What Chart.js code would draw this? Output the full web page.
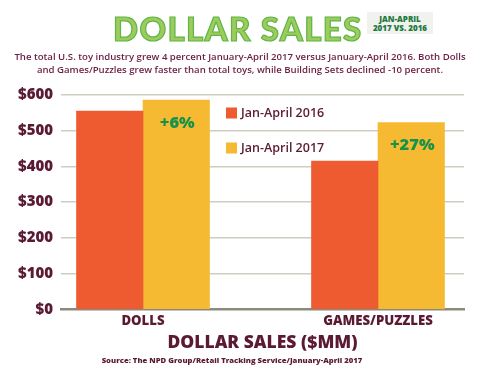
<!DOCTYPE html>
<html><head><meta charset="utf-8">
<script src="https://cdn.jsdelivr.net/npm/chart.js@4/dist/chart.umd.min.js"></script>
<style>
html,body{margin:0;padding:0;background:#fff;width:480px;height:373px;overflow:hidden;}
#wrap{position:relative;width:480px;height:373px;}
canvas{position:absolute;left:0;top:0;}
#title{position:absolute;left:113px;top:8px;font-family:Lato,sans-serif;font-weight:900;font-size:33px;color:#9dcc5c;-webkit-text-stroke:1.2px #5fb548;letter-spacing:1.3px;white-space:nowrap;line-height:40px;}
#badge{position:absolute;left:367px;top:12px;width:66px;height:22px;background:#f1f1ef;color:#1c7a3c;font-family:"Open Sans",sans-serif;font-weight:800;font-size:8px;line-height:9.5px;text-align:center;padding-top:1.5px;box-sizing:border-box;}
#desc{position:absolute;left:0;top:50px;width:480px;text-align:center;color:#6b1d40;font-family:"Open Sans",sans-serif;font-weight:600;font-size:9.6px;line-height:13px;white-space:nowrap;}
</style></head>
<body><div id="wrap">
<canvas id="c" width="480" height="373"></canvas>
<div id="title">DOLLAR SALES</div>
<div id="badge">JAN-APRIL<br>2017 VS. 2016</div>
<div id="desc">The total U.S. toy industry grew 4 percent January-April 2017 versus January-April 2016. Both Dolls<br>and Games/Puzzles grew faster than total toys, while Building Sets declined -10 percent.</div>
</div>
<script>
const categories = ['DOLLS', 'GAMES/PUZZLES'];
const seriesNames = ['Jan-April 2016', 'Jan-April 2017'];
const sales2016 = [555, 415];
const sales2017 = [586, 523];
const changeLabels = ['+6%', '+27%'];
const yTicks = [0, 100, 200, 300, 400, 500, 600];

const maroon = '#5b1a33';
const colors = ['#ee5b30', '#f5ba32'];
const heavy = '"Open Sans", sans-serif';

const legendPlugin = {
  id: 'insideLegend',
  afterDatasetsDraw(chart) {
    const ctx = chart.ctx;
    ctx.save();
    const pos = [{x: 226, y: 113}, {x: 226, y: 148}];
    chart.data.datasets.forEach((ds, i) => {
      ctx.fillStyle = ds.backgroundColor;
      ctx.fillRect(pos[i].x, pos[i].y - 5.5, 11, 11);
      ctx.fillStyle = maroon;
      ctx.font = '600 12.5px "Open Sans", sans-serif';
      ctx.textBaseline = 'middle';
      ctx.textAlign = 'left';
      ctx.fillText(ds.label, pos[i].x + 15, pos[i].y + 0.5);
    });
    ctx.restore();
  }
};

const changePlugin = {
  id: 'changeLabels',
  afterDatasetsDraw(chart) {
    const ctx = chart.ctx;
    const meta = chart.getDatasetMeta(1);
    ctx.save();
    ctx.fillStyle = '#17924a';
    ctx.font = '800 16.5px "Open Sans", sans-serif';
    ctx.textAlign = 'center';
    ctx.textBaseline = 'middle';
    meta.data.forEach((bar, i) => {
      ctx.fillText(changeLabels[i], bar.x + 1, bar.y + 23);
    });
    ctx.restore();
  }
};

new Chart(document.getElementById('c'), {
  type: 'bar',
  data: {
    datasets: [
      { label: seriesNames[0], data: sales2016.map((v, i) => ({x: i, y: v})), backgroundColor: colors[0], borderWidth: 0 },
      { label: seriesNames[1], data: sales2017.map((v, i) => ({x: i, y: v})), backgroundColor: colors[1], borderWidth: 0 }
    ]
  },
  options: {
    responsive: false,
    animation: false,
    barThickness: 66.5,
    layout: { padding: { top: 95, right: 16, left: 0, bottom: 0 } },
    plugins: {
      legend: { display: false },
      tooltip: { enabled: false },
      subtitle: {
        display: true,
        position: 'bottom',
        text: 'Source: The NPD Group/Retail Tracking Service/January-April 2017',
        color: maroon,
        font: { family: heavy, weight: '800', size: 7.7 },
        padding: { top: 3.3, bottom: 7.2 }
      }
    },
    scales: {
      x: {
        type: 'linear',
        offset: false,
        min: -0.349,
        max: 1.366,
        afterBuildTicks: s => { s.ticks = categories.map((c, i) => ({value: i})); },
        afterFit: s => { s.height = 43.9; },
        ticks: {
          callback: v => categories[v],
          color: maroon,
          font: { family: heavy, weight: '800', size: 13.2 },
          padding: 4,
          maxRotation: 0
        },
        grid: { display: false, drawTicks: false, offset: false },
        border: { display: true, color: '#8c8a7d', width: 2.5 },
        title: {
          display: true,
          text: 'DOLLAR SALES ($MM)',
          color: maroon,
          font: { family: heavy, weight: '800', size: 17.5 },
          padding: 0
        }
      },
      y: {
        min: 0,
        max: 600,
        afterBuildTicks: s => { s.ticks = yTicks.map(v => ({value: v})); },
        afterFit: s => { s.width = 61; },
        ticks: {
          callback: v => '$' + v,
          color: maroon,
          font: { family: heavy, weight: '800', size: 15 },
          padding: 8
        },
        grid: {
          drawTicks: false,
          color: ctx => ctx.tick && ctx.tick.value === 0 ? 'rgba(0,0,0,0)' : '#cfccc2',
          lineWidth: 1.5
        },
        border: { display: false }
      }
    }
  },
  plugins: [legendPlugin, changePlugin]
});
</script>
</body></html>
